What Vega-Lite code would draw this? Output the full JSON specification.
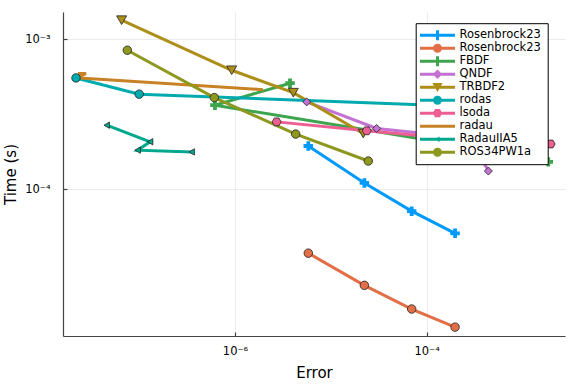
{
  "$schema": "https://vega.github.io/schema/vega-lite/v6.json",
  "width": 502,
  "height": 324,
  "autosize": {"type": "none"},
  "padding": {"left": 63, "top": 12, "right": 11, "bottom": 48},
  "background": "white",
  "config": {
    "font": "DejaVu Sans",
    "view": {"stroke": null},
    "axis": {
      "grid": true,
      "gridColor": "#ebebeb",
      "gridWidth": 1,
      "domainColor": "#444444",
      "domainWidth": 1.2,
      "tickColor": "#444444",
      "tickSize": -4,
      "tickWidth": 1.2,
      "labelFont": "DejaVu Sans",
      "labelFontSize": 11.5,
      "labelColor": "#000000",
      "titleFont": "DejaVu Sans",
      "titleFontSize": 15,
      "titleFontWeight": "normal",
      "titleColor": "#000000"
    }
  },
  "data": {
    "values": [
      {"s": "Rosenbrock23", "i": 1, "x": 5.82e-6, "y": 1.94e-4},
      {"s": "Rosenbrock23", "i": 2, "x": 2.24e-5, "y": 1.10e-4},
      {"s": "Rosenbrock23", "i": 3, "x": 6.98e-5, "y": 7.13e-5},
      {"s": "Rosenbrock23", "i": 4, "x": 1.98e-4, "y": 5.07e-5},
      {"s": "Rosenbrock23 ", "i": 1, "x": 5.82e-6, "y": 3.74e-5},
      {"s": "Rosenbrock23 ", "i": 2, "x": 2.24e-5, "y": 2.28e-5},
      {"s": "Rosenbrock23 ", "i": 3, "x": 6.98e-5, "y": 1.585e-5},
      {"s": "Rosenbrock23 ", "i": 4, "x": 1.98e-4, "y": 1.2e-5},
      {"s": "FBDF", "i": 1, "x": 3.75e-6, "y": 5.09e-4},
      {"s": "FBDF", "i": 2, "x": 6.18e-7, "y": 3.63e-4},
      {"s": "FBDF", "i": 3, "x": 1.38e-4, "y": 2.06e-4},
      {"s": "FBDF", "i": 4, "x": 1.86e-3, "y": 1.52e-4},
      {"s": "QNDF", "i": 1, "x": 5.6e-6, "y": 3.82e-4},
      {"s": "QNDF", "i": 2, "x": 3.01e-5, "y": 2.54e-4},
      {"s": "QNDF", "i": 3, "x": 2.84e-4, "y": 2.19e-4},
      {"s": "QNDF", "i": 4, "x": 4.41e-4, "y": 1.32e-4},
      {"s": "TRBDF2", "i": 1, "x": 6.56e-8, "y": 1.34e-3},
      {"s": "TRBDF2", "i": 2, "x": 9.24e-7, "y": 6.21e-4},
      {"s": "TRBDF2", "i": 3, "x": 4.06e-6, "y": 4.40e-4},
      {"s": "TRBDF2", "i": 4, "x": 2.18e-5, "y": 2.35e-4},
      {"s": "rodas", "i": 1, "x": 2.19e-8, "y": 5.52e-4},
      {"s": "rodas", "i": 2, "x": 1.0e-7, "y": 4.30e-4},
      {"s": "rodas", "i": 3, "x": 2.23e-4, "y": 3.57e-4},
      {"s": "rodas", "i": 4, "x": 1.2e-3, "y": 3.36e-4},
      {"s": "lsoda", "i": 1, "x": 2.72e-6, "y": 2.81e-4},
      {"s": "lsoda", "i": 2, "x": 2.37e-5, "y": 2.45e-4},
      {"s": "lsoda", "i": 3, "x": 2.23e-4, "y": 2.15e-4},
      {"s": "lsoda", "i": 4, "x": 1.97e-3, "y": 2.0e-4},
      {"s": "radau", "i": 1, "x": 2.30e-8, "y": 5.9e-4},
      {"s": "radau", "i": 2, "x": 2.79e-8, "y": 5.9e-4},
      {"s": "radau", "i": 3, "x": 2.19e-8, "y": 5.54e-4},
      {"s": "radau", "i": 4, "x": 1.96e-6, "y": 4.61e-4},
      {"s": "RadauIIA5", "i": 1, "x": 4.58e-8, "y": 2.67e-4},
      {"s": "RadauIIA5", "i": 2, "x": 1.30e-7, "y": 2.07e-4},
      {"s": "RadauIIA5", "i": 3, "x": 9.64e-8, "y": 1.82e-4},
      {"s": "RadauIIA5", "i": 4, "x": 3.53e-7, "y": 1.77e-4},
      {"s": "ROS34PW1a", "i": 1, "x": 7.52e-8, "y": 8.45e-4},
      {"s": "ROS34PW1a", "i": 2, "x": 6.08e-7, "y": 4.08e-4},
      {"s": "ROS34PW1a", "i": 3, "x": 4.3e-6, "y": 2.33e-4},
      {"s": "ROS34PW1a", "i": 4, "x": 2.46e-5, "y": 1.54e-4}
    ]
  },
  "encoding": {
    "x": {
      "field": "x", "type": "quantitative",
      "scale": {"type": "log", "domain": [1.603e-8, 2.78e-3], "nice": false, "zero": false},
      "axis": {"title": "Error", "values": [1e-6, 1e-4], "labelExpr": "datum.value < 1e-5 ? '10⁻⁶' : '10⁻⁴'", "labelPadding": 13, "titlePadding": 9}
    },
    "y": {
      "field": "y", "type": "quantitative",
      "scale": {"type": "log", "domain": [1.047e-5, 1.52e-3], "nice": false, "zero": false},
      "axis": {"title": "Time (s)", "values": [1e-4, 1e-3], "labelExpr": "datum.value < 5e-4 ? '10⁻⁴' : '10⁻³'", "labelPadding": 17, "titlePadding": 6}
    },
    "color": {
      "field": "s", "type": "nominal",
      "scale": {
        "domain": ["Rosenbrock23", "Rosenbrock23 ", "FBDF", "QNDF", "TRBDF2", "rodas", "lsoda", "radau", "RadauIIA5", "ROS34PW1a"],
        "range": ["#009AFA", "#E36F47", "#3EA44E", "#C371D2", "#AC8E18", "#00AAAE", "#ED5E93", "#C68225", "#00A98D", "#8E971E"]
      },
      "legend": null
    }
  },
  "layer": [
    {
      "mark": {"type": "point", "filled": true, "opacity": 0},
      "encoding": {
        "color": {
          "field": "s", "type": "nominal",
          "legend": {
            "orient": "none", "legendX": 352.7, "legendY": 11.2, "title": null,
            "symbolSize": 144, "symbolStrokeWidth": 0, "symbolOpacity": 1,
            "labelFontSize": 11.5, "labelFont": "DejaVu Sans", "labelColor": "#000000",
            "padding": 6, "rowPadding": 1.0, "symbolOffset": 9.8, "labelOffset": 16,
            "fillColor": "white", "strokeColor": "#000000", "zindex": 1
          }
        },
        "shape": {
          "field": "s", "type": "nominal",
          "scale": {
            "domain": ["Rosenbrock23", "Rosenbrock23 ", "FBDF", "QNDF", "TRBDF2", "rodas", "lsoda", "radau", "RadauIIA5", "ROS34PW1a"],
            "range": [
              "M-2.92,-0.25H2.92V0.25H-2.92Z M-0.83,-0.25H-0.25V-0.83H0.25V-0.25H0.83V0.25H0.25V0.83H-0.25V0.25H-0.83Z",
              "M-2.92,-0.25H2.92V0.25H-2.92Z M0.75,0A0.75,0.75,0,1,1,-0.75,0A0.75,0.75,0,1,1,0.75,0Z",
              "M-2.92,-0.25H2.92V0.25H-2.92Z M-0.83,-0.25H-0.25V-0.83H0.25V-0.25H0.83V0.25H0.25V0.83H-0.25V0.25H-0.83Z",
              "M-2.92,-0.25H2.92V0.25H-2.92Z M0,-0.8L0.8,0L0,0.8L-0.8,0Z",
              "M-2.92,-0.25H2.92V0.25H-2.92Z M-0.85,-0.7H0.85L0,0.8Z",
              "M-2.92,-0.25H2.92V0.25H-2.92Z M0.75,0A0.75,0.75,0,1,1,-0.75,0A0.75,0.75,0,1,1,0.75,0Z",
              "M-2.92,-0.25H2.92V0.25H-2.92Z M0.8,0L0.4,0.69L-0.4,0.69L-0.8,0L-0.4,-0.69L0.4,-0.69Z",
              "M-2.92,-0.25H2.92V0.25H-2.92Z",
              "M-2.92,-0.25H2.92V0.25H-2.92Z M-0.55,0L0.35,-0.45V0.45Z",
              "M-2.92,-0.25H2.92V0.25H-2.92Z M0.75,0A0.75,0.75,0,1,1,-0.75,0A0.75,0.75,0,1,1,0.75,0Z"
            ]
          },
          "legend": {
            "orient": "none", "legendX": 352.7, "legendY": 11.2, "title": null,
            "symbolSize": 144, "symbolStrokeWidth": 0, "symbolOpacity": 1,
            "labelFontSize": 11.5, "labelFont": "DejaVu Sans", "labelColor": "#000000",
            "padding": 6, "rowPadding": 1.0, "symbolOffset": 9.8, "labelOffset": 16,
            "fillColor": "white", "strokeColor": "#000000", "zindex": 1
          }
        }
      }
    },
    {
      "mark": {"type": "line", "strokeWidth": 3},
      "encoding": {"order": {"field": "i", "type": "quantitative"}}
    },
    {
      "transform": [{"filter": {"field": "s", "oneOf": ["Rosenbrock23", "FBDF"]}}],
      "mark": {"type": "point", "shape": "cross", "filled": true, "opacity": 1, "size": 90, "strokeWidth": 0}
    },
    {
      "transform": [{"filter": {"field": "s", "oneOf": ["Rosenbrock23 ", "rodas", "ROS34PW1a"]}}],
      "mark": {"type": "point", "shape": "circle", "filled": true, "opacity": 1, "size": 72, "stroke": "#222222", "strokeWidth": 0.8}
    },
    {
      "transform": [{"filter": {"field": "s", "oneOf": ["QNDF"]}}],
      "mark": {"type": "point", "shape": "diamond", "filled": true, "opacity": 1, "size": 64, "stroke": "#222222", "strokeWidth": 0.8}
    },
    {
      "transform": [{"filter": {"field": "s", "oneOf": ["TRBDF2"]}}],
      "mark": {"type": "point", "shape": "triangle-down", "filled": true, "opacity": 1, "size": 100, "stroke": "#222222", "strokeWidth": 0.8}
    },
    {
      "transform": [{"filter": {"field": "s", "oneOf": ["lsoda"]}}],
      "mark": {"type": "point", "shape": "M1,0L0.5,0.866L-0.5,0.866L-1,0L-0.5,-0.866L0.5,-0.866Z", "filled": true, "opacity": 1, "size": 81, "stroke": "#222222", "strokeWidth": 0.8}
    },
    {
      "transform": [{"filter": {"field": "s", "oneOf": ["RadauIIA5"]}}],
      "mark": {"type": "point", "shape": "triangle-left", "filled": true, "opacity": 1, "size": 40, "stroke": "#222222", "strokeWidth": 0.8}
    }
  ]
}
